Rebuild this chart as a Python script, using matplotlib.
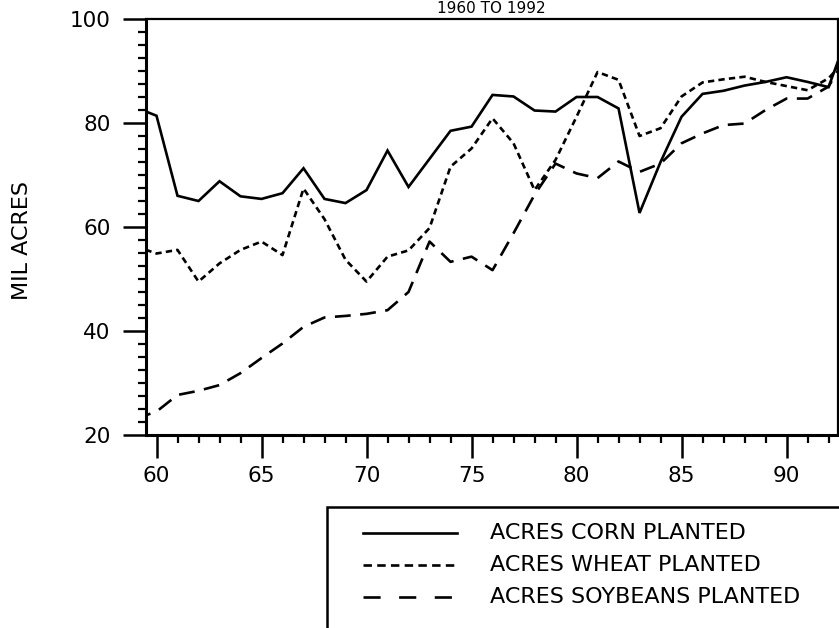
import matplotlib
matplotlib.use("Agg")
import matplotlib.pyplot as plt
from matplotlib.lines import Line2D
from matplotlib.patches import Rectangle
from matplotlib.ticker import MultipleLocator

years = list(range(59, 94))
corn = [83.0, 81.4, 66.0, 65.0, 68.8, 65.9, 65.4, 66.5, 71.3, 65.4, 64.6, 67.1,
        74.7, 67.7, 73.1, 78.5, 79.3, 85.4, 85.1, 82.4, 82.2, 85.0, 85.0, 82.8,
        62.7, 72.5, 81.2, 85.6, 86.2, 87.2, 87.9, 88.8, 87.9, 86.9, 98.0]
wheat = [56.3, 54.9, 55.6, 49.5, 53.0, 55.6, 57.2, 54.6, 67.4, 61.5, 53.7, 49.5,
         54.3, 55.5, 59.8, 71.6, 75.1, 80.9, 76.1, 67.1, 72.9, 81.2, 89.8, 88.3,
         77.5, 79.0, 85.1, 87.8, 88.4, 88.9, 87.9, 87.1, 86.3, 88.6, 93.0]
soy = [23.1, 24.5, 27.7, 28.5, 29.6, 31.9, 34.8, 37.6, 40.8, 42.6, 42.9, 43.3,
       44.0, 47.5, 57.2, 53.3, 54.3, 51.7, 58.8, 66.2, 72.2, 70.3, 69.4, 72.6,
       70.6, 72.2, 76.1, 78.0, 79.6, 79.9, 82.5, 84.7, 84.7, 87.0, 94.0]
series_labels = ["ACRES CORN PLANTED", "ACRES WHEAT PLANTED", "ACRES SOYBEANS PLANTED"]
x_ticks = [60, 65, 70, 75, 80, 85, 90]
y_ticks = [20, 40, 60, 80, 100]
title = "1960 TO 1992"
ylabel = "MIL ACRES"

W, H = 839, 628
fig = plt.figure(figsize=(W / 100, H / 100), dpi=100)
plt.rcParams['font.family'] = ['DejaVu Sans']

def fx(x):
    return x / W

def fy(y):
    return 1 - y / H

ax = fig.add_axes([fx(146), fy(435), fx(838) - fx(146), fy(19) - fy(435)])

lw = 1.9
styles = ['-', (0, (2.4, 1.6)), (0, (6.0, 3.6))]
for vals, ls in zip([corn, wheat, soy], styles):
    ax.plot(years, vals, color='black', lw=lw, ls=ls, solid_joinstyle='miter')

ax.set_xlim(59.5, 92.45)
ax.set_ylim(20, 100)
ax.set_xticks(x_ticks)
ax.set_yticks(y_ticks)
ax.xaxis.set_minor_locator(MultipleLocator(1))
ax.yaxis.set_minor_locator(MultipleLocator(2.5))
ax.tick_params(which='major', direction='out', length=16.5, width=1.8, labelsize=15.5,
               color='black')
ax.tick_params(axis='y', which='major', pad=9)
ax.tick_params(axis='x', which='major', pad=6)
ax.tick_params(which='minor', direction='out', length=6, width=1.6)
for s in ['left', 'bottom']:
    ax.spines[s].set_linewidth(2.2)
for s in ['top', 'right']:
    ax.spines[s].set_linewidth(1.6)

fig.text(fx(491), fy(1), title, ha='center', va='top', fontsize=11)
fig.text(fx(22), fy(241), ylabel, ha='center', va='center', rotation=90, fontsize=16)

# Legend box (drawn in figure pixels)
fig.patches.append(Rectangle((fx(327), fy(640)), fx(860) - fx(327), fy(507) - fy(640),
                             transform=fig.transFigure, fill=False, lw=1.8,
                             edgecolor='black'))
legend_styles = ['-', (0, (3.2, 2.0)), (0, (6.5, 7.0))]
row_y = [533, 565, 597]
for lab, ls, ry in zip(series_labels, legend_styles, row_y):
    fig.lines.append(Line2D([fx(363), fx(457)], [fy(ry), fy(ry)], transform=fig.transFigure,
                            color='black', lw=lw, ls=ls))
    fig.text(fx(490), fy(ry), lab, ha='left', va='center', fontsize=16)

fig.savefig("out.png", dpi=100)
